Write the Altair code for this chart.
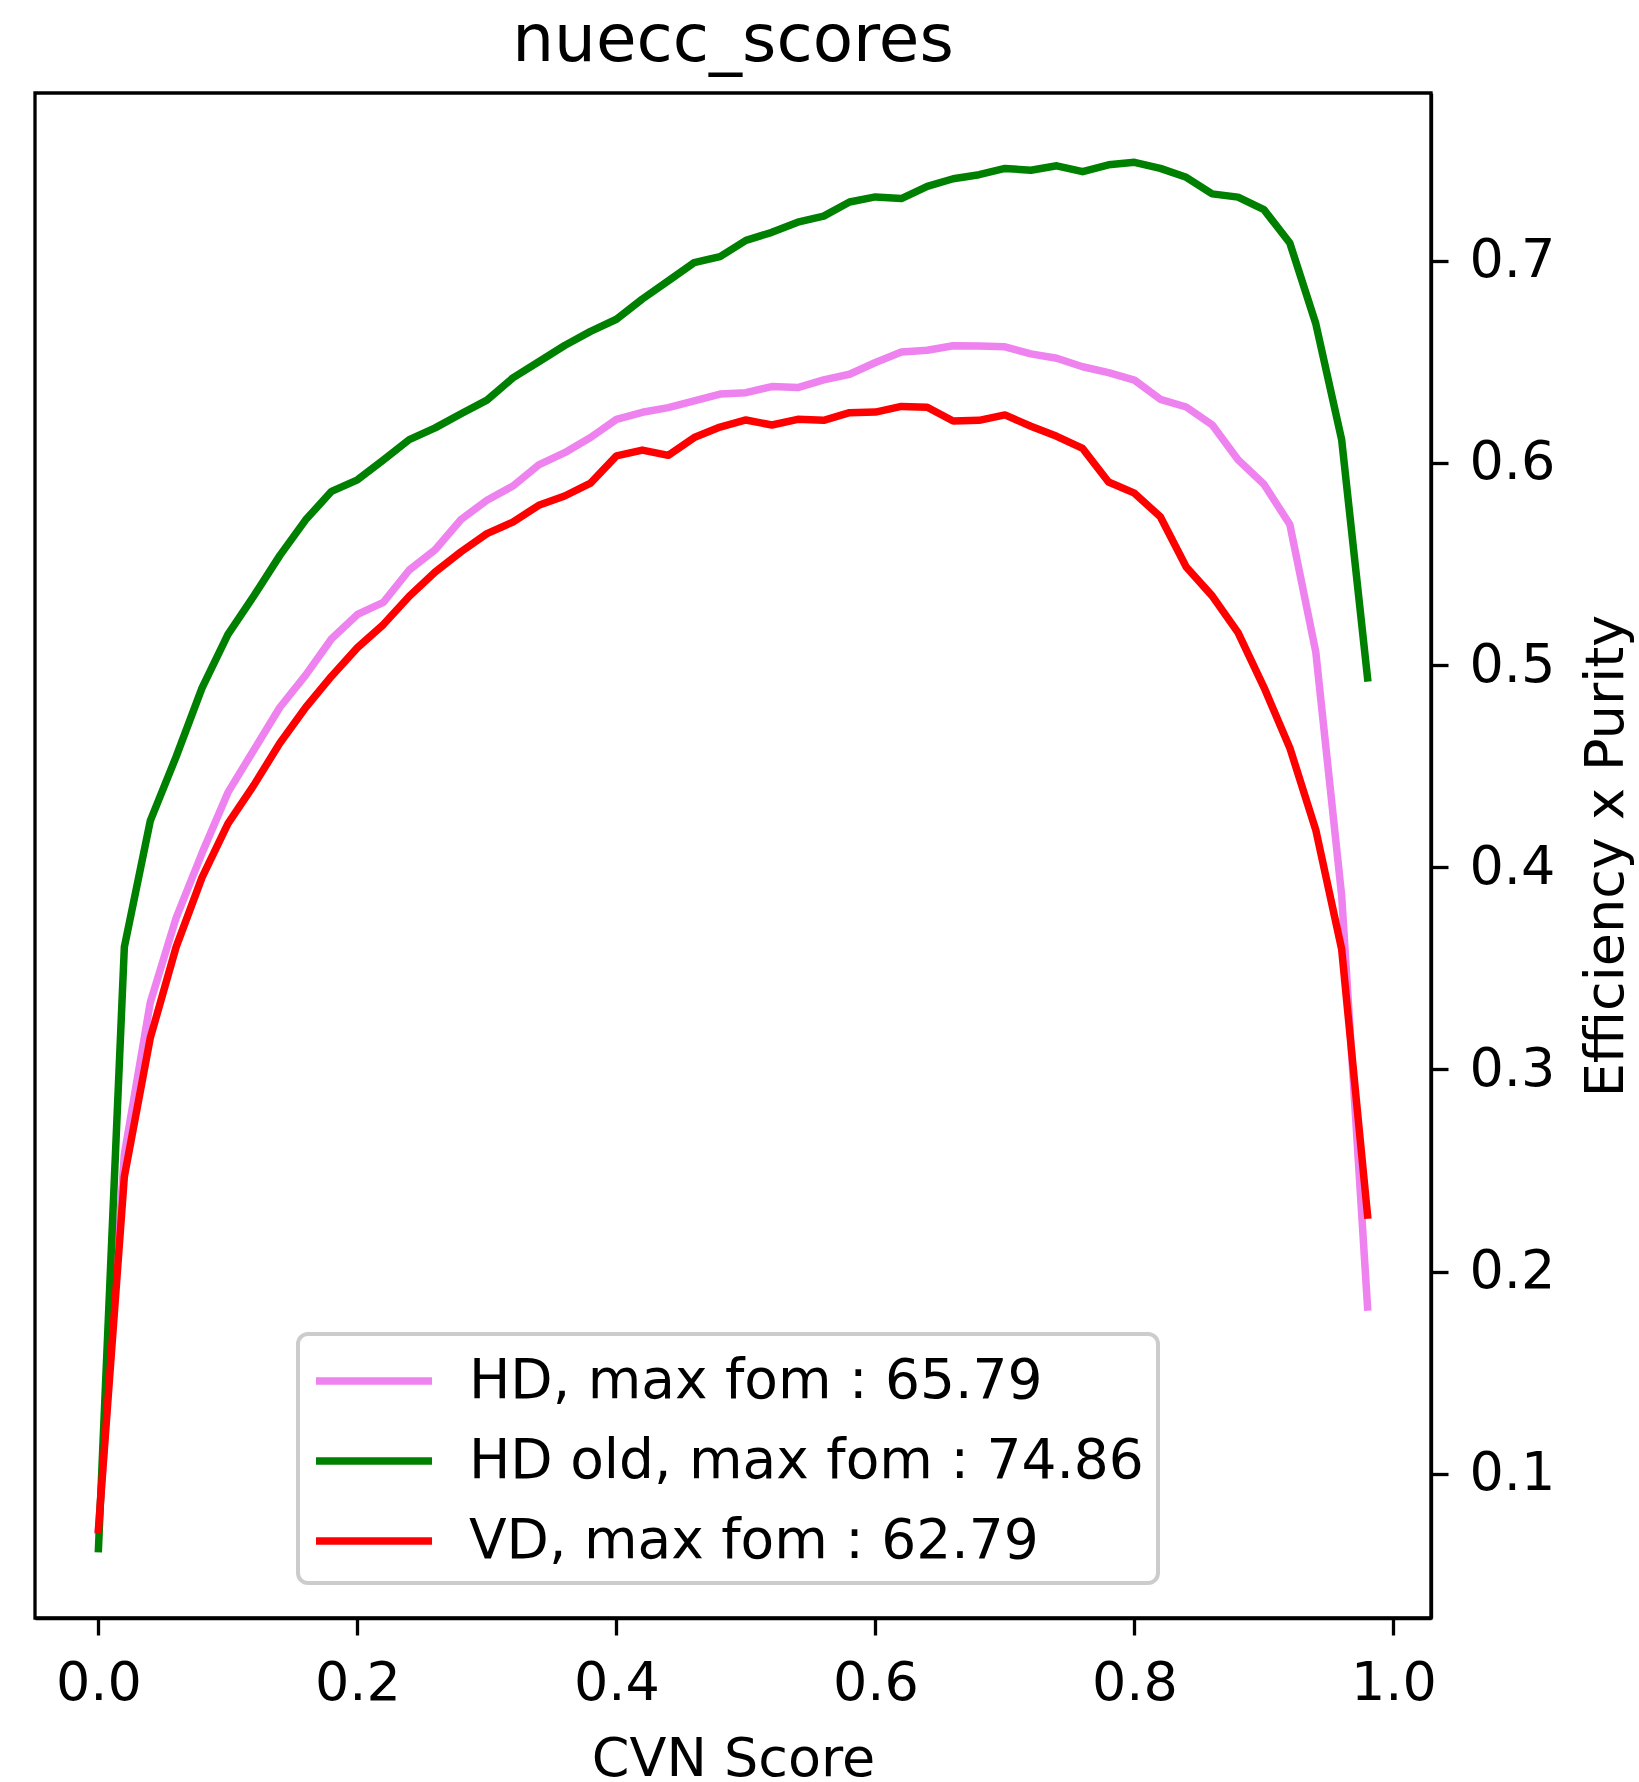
import altair as alt
import pandas as pd

score = [0.00, 0.02, 0.04, 0.06, 0.08, 0.10, 0.12, 0.14, 0.16, 0.18,
         0.20, 0.22, 0.24, 0.26, 0.28, 0.30, 0.32, 0.34, 0.36, 0.38,
         0.40, 0.42, 0.44, 0.46, 0.48, 0.50, 0.52, 0.54, 0.56, 0.58,
         0.60, 0.62, 0.64, 0.66, 0.68, 0.70, 0.72, 0.74, 0.76, 0.78,
         0.80, 0.82, 0.84, 0.86, 0.88, 0.90, 0.92, 0.94, 0.96, 0.98]

hd = [0.072, 0.258, 0.333, 0.375, 0.407, 0.437, 0.458, 0.479, 0.495, 0.513,
      0.525, 0.531, 0.547, 0.557, 0.572, 0.5815, 0.5885, 0.599, 0.605, 0.6125,
      0.6215, 0.625, 0.6273, 0.6306, 0.634, 0.6347, 0.6377, 0.6372, 0.641, 0.6438,
      0.6496, 0.6548, 0.6557, 0.6579, 0.6578, 0.6574, 0.6539, 0.6517, 0.6475, 0.6446,
      0.6409, 0.6314, 0.6276, 0.6188, 0.6015, 0.5894, 0.5695, 0.5066, 0.386, 0.1825]

hd_old = [0.063, 0.3606, 0.4229, 0.4547, 0.4887, 0.5152, 0.5342, 0.5541, 0.5718, 0.5859,
          0.5916, 0.6014, 0.6115, 0.6173, 0.6243, 0.631, 0.642, 0.650, 0.658, 0.665,
          0.671, 0.681, 0.690, 0.699, 0.702, 0.710, 0.714, 0.719, 0.722, 0.729,
          0.7315, 0.7307, 0.7367, 0.7405, 0.7425, 0.7456, 0.7447, 0.7469, 0.7440, 0.7474,
          0.7486, 0.7456, 0.7412, 0.733, 0.7314, 0.7252, 0.7087, 0.6689, 0.6115, 0.4936]

vd = [0.0726, 0.247, 0.3155, 0.3606, 0.395, 0.4216, 0.4406, 0.4613, 0.479, 0.4945,
      0.5086, 0.520, 0.534, 0.546, 0.556, 0.565, 0.5707, 0.579, 0.5836, 0.590,
      0.6034, 0.6063, 0.6037, 0.6125, 0.6177, 0.6212, 0.6187, 0.6215, 0.621, 0.6248,
      0.6251, 0.6279, 0.6275, 0.6207, 0.621, 0.6237, 0.6181, 0.6131, 0.6071, 0.5905,
      0.585, 0.5733, 0.5485, 0.5342, 0.516, 0.489, 0.459, 0.4185, 0.3595, 0.228]

series_names = ["HD, max fom : 65.79", "HD old, max fom : 74.86", "VD, max fom : 62.79"]
series_colors = ["violet", "green", "red"]
x_ticks = [0.0, 0.2, 0.4, 0.6, 0.8, 1.0]
y_ticks = [0.1, 0.2, 0.3, 0.4, 0.5, 0.6, 0.7]

rows = []
for name, vals in zip(series_names, [hd, hd_old, vd]):
    for i, (s, v) in enumerate(zip(score, vals)):
        rows.append({"score": s, "fom": v, "series": name, "order": i})
df = pd.DataFrame(rows)

FONT = "DejaVu Sans"

chart = alt.Chart(df).mark_line(
    strokeWidth=7.5, strokeCap="square", strokeJoin="round", clip=True
).encode(
    x=alt.X("score:Q",
            scale=alt.Scale(domain=[-0.049, 1.029], nice=False, zero=False),
            axis=alt.Axis(values=x_ticks, format=".1f", title="CVN Score",
                          orient="bottom")),
    y=alt.Y("fom:Q",
            scale=alt.Scale(domain=[0.0287, 0.7829], nice=False, zero=False),
            axis=alt.Axis(values=y_ticks, format=".1f", title="Efficiency x Purity",
                          orient="right", titleAngle=270, titlePadding=79)),
    color=alt.Color("series:N",
                    scale=alt.Scale(domain=series_names, range=series_colors),
                    legend=alt.Legend(orient="none", legendX=263, legendY=1241,
                                      title=None, symbolType="M-2,0L2,0",
                                      symbolSize=3364, symbolStrokeWidth=7.5,
                                      symbolOffset=29,
                                      labelFontSize=55, labelFont=FONT,
                                      labelColor="black", labelOffset=62,
                                      labelLimit=0, rowPadding=19, padding=14,
                                      strokeColor="#cccccc", cornerRadius=10,
                                      fillColor="white")),
    order="order:Q",
).properties(
    width=1396,
    height=1525,
    title=alt.TitleParams("nuecc_scores", fontSize=66, font=FONT,
                          fontWeight="normal", color="black", anchor="middle",
                          offset=18),
    padding={"left": 35, "top": 8, "right": 0, "bottom": 0},
).configure_view(
    stroke="black", strokeWidth=3.3
).configure_axis(
    grid=False, domainColor="black", domainWidth=3.3,
    tickColor="black", tickWidth=3.3, tickSize=17,
    labelFont=FONT, labelFontSize=54, labelColor="black", labelPadding=21,
    titleFont=FONT, titleFontSize=54, titleColor="black",
    titleFontWeight="normal", titlePadding=22,
).configure_legend(
    strokeWidth=4
)

chart.save("out.html", embed_options={"renderer": "svg", "actions": False})
